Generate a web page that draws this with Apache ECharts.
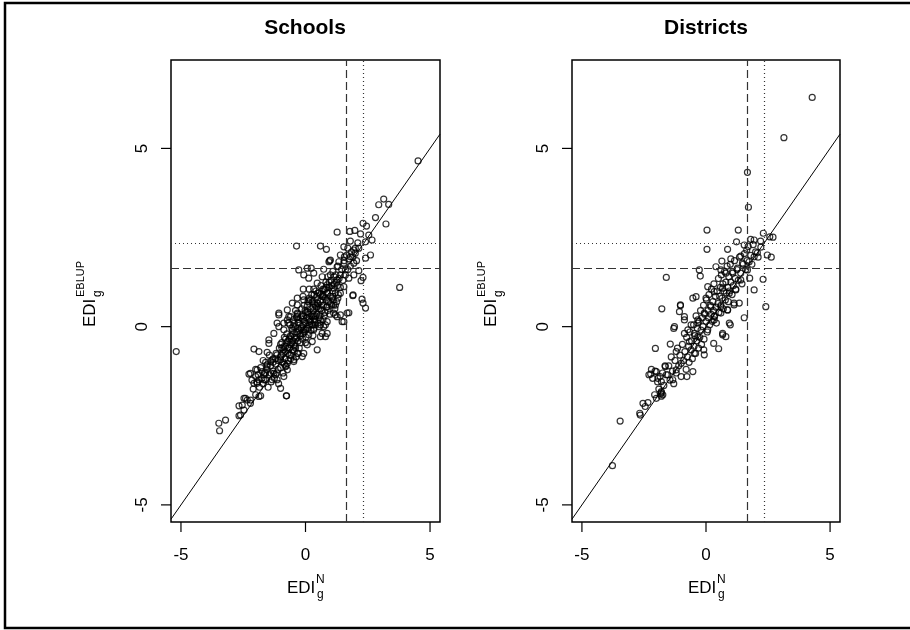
<!DOCTYPE html>
<html>
<head>
<meta charset="utf-8">
<title>EDI scatter</title>
<script src="https://cdn.jsdelivr.net/npm/echarts@6/dist/echarts.min.js"></script>
<style>
html,body{margin:0;padding:0;background:#fff;overflow:hidden;}
#main{width:910px;height:630px;}
</style>
</head>
<body>
<div id="main"></div>
<script>
var panelTitles=["Schools","Districts"];
var tickVals=[-5,0,5];
var tickMin=-5,tickMax=5,tickStep=5;
var xRange=[-5.4,5.4];
var yRange=[-5.48,7.48];
// cut-offs drawn as dashed / dotted guide lines
var Z95=1.645;
var Z99=2.326;
var diagonal=[[-5.4,-5.4],[5.4,5.4]];

var schoolsPts=[
	[4.52,4.65],[3.14,3.58],[2.94,3.42],[3.34,3.43],[2.81,3.06],[3.23,2.88],[2.31,2.9],[2.45,2.82],[2.21,2.6],[1.98,2.7],
	[1.78,2.67],[1.27,2.65],[2.54,2.57],[2.67,2.43],[2.41,2.38],[1.8,2.4],[-0.36,2.26],[0.6,2.26],[0.84,2.17],[1.54,2.24],
	[1.7,2.2],[1.94,2.15],[2.14,2.2],[1.4,2.01],[1.56,1.96],[1.8,1.96],[2.0,2.06],[2.61,2.01],[2.41,1.92],[1.0,1.87],
	[0.94,1.82],[0.97,1.85],[1.34,1.82],[1.54,1.78],[1.94,1.78],[0.07,1.64],[0.23,1.64],[-0.27,1.59],[0.73,1.61],[1.27,1.68],
	[1.6,1.59],[2.14,1.57],[2.31,1.38],[2.23,1.29],[3.78,1.1],[-0.07,1.45],[0.33,1.5],[0.13,1.36],[0.67,1.4],[1.0,1.45],
	[1.4,1.45],[1.74,1.36],[1.94,1.45],[1.27,1.31],[0.47,1.22],[0.87,1.17],[1.13,1.08],[1.54,1.12],[-0.09,1.05],[0.33,1.05],
	[1.9,0.87],[2.27,0.77],[2.31,0.66],[2.41,0.52],[1.4,0.94],[1.07,0.8],[0.73,0.84],[-0.33,0.8],[-0.53,0.66],[0.13,0.75],
	[0.47,0.66],[0.87,0.56],[1.13,0.38],[1.4,0.33],[1.74,0.39],[1.54,0.14],[1.27,0.28],[-1.07,0.38],[-0.73,0.47],[-0.67,0.28],
	[-0.33,0.38],[0.07,0.42],[0.33,0.28],[0.6,0.19],[0.8,0.05],[-1.14,0.1],[-1.27,-0.19],[-0.87,-0.09],[-0.47,0.0],[-0.07,-0.09],
	[0.33,-0.05],[0.67,-0.19],[-5.19,-0.7],[-3.48,-2.71],[-3.21,-2.62],[-3.45,-2.92],[-2.67,-2.22],[-2.61,-2.48],[-2.47,-2.34],[-2.47,-2.01],
	[-2.34,-2.06],[-2.21,-2.15],[-2.0,-1.91],[-1.87,-1.96],[-2.27,-1.33],[-2.07,-0.63],[-1.87,-0.7],[-1.54,-0.72],[-2.0,-1.4],[-1.94,-1.59],
	[-1.74,-1.26],[-1.54,-1.12],[-1.67,-1.49],[-1.4,-0.98],[-1.47,-0.47],[-1.27,-1.31],[-1.0,-1.73],[-0.77,-1.94],[-1.14,-1.49],[-0.87,-1.4],
	[-1.0,-0.93],[-0.73,-1.03],[-0.47,-0.98],[-0.33,-0.75],[-0.07,-0.75],[0.07,-0.51],[0.47,-0.65],[0.27,-0.42],[0.6,-0.28],[0.87,-0.19],
	[1.2,0.33],[1.67,0.38],[1.47,0.14],[-0.6,-0.28],[-0.87,-0.56],[-0.47,-0.51],[-1.07,0.33],[-0.73,0.19],[-0.33,0.28],[0.87,0.14],
	[0.6,0.05],[0.33,-0.09],[-2.67,-2.5],[-2.54,-2.2],[-2.41,-2.01],[-2.21,-2.06],[-1.8,-1.94],[-2.07,-1.59],[-1.87,-1.49],[-2.21,-1.31],
	[-1.94,-1.21],[-1.67,-1.35],[-1.34,-1.49],[-1.54,-1.07],[-1.34,-0.93],[-1.14,-0.79],[-0.76,-1.94],[-1.47,-0.37],[-1.07,0.0],[-0.87,0.1],
	[-0.6,0.28],[-0.33,0.61],[-0.07,0.75],[0.13,-0.23],[0.8,-0.28],[0.73,0.0],[1.13,0.61],[1.91,0.89],[-0.13,-0.84],[-0.47,-0.93],
	[-0.73,-1.21],[-0.8,-1.12],[-1.6,-1.5],[-1.55,-1.2],[-1.5,-1.7],[-1.45,-1.35],[-1.4,-1.1],[-1.38,-1.55],[-1.3,-1.25],[-1.3,-0.9],
	[-1.25,-1.45],[-1.2,-1.05],[-1.18,-0.75],[-1.15,-1.3],[-1.1,-0.95],[-1.08,-1.6],[-1.05,-0.6],[-1.0,-1.15],[-0.98,-0.8],[-0.95,-0.45],
	[-0.92,-1.0],[-0.9,-1.3],[-0.88,-0.65],[-0.85,-0.3],[-0.82,-0.9],[-0.8,-0.55],[-0.78,-1.1],[-0.75,-0.2],[-0.72,-0.75],[-0.7,-0.4],
	[-0.68,-0.95],[-0.65,-0.6],[-0.62,0.05],[-0.6,-0.25],[-0.58,-0.8],[-0.55,-0.45],[-0.52,-0.1],[-0.5,-0.65],[-0.48,0.2],[-0.45,-0.3],
	[-0.42,-0.55],[-0.4,0.0],[-0.38,-0.85],[-0.35,-0.15],[-0.32,0.35],[-0.3,-0.4],[-0.28,0.1],[-0.25,-0.6],[-0.22,-0.2],[-0.2,0.25],
	[-0.18,-0.05],[-0.15,0.5],[-0.12,-0.35],[-0.1,0.05],[-0.08,0.3],[-0.05,-0.15],[-0.02,0.45],[0.0,0.1],[0.02,-0.3],[0.05,0.25],
	[0.08,0.6],[0.1,-0.05],[0.12,0.35],[0.15,0.8],[0.18,0.15],[0.2,0.5],[0.22,-0.1],[0.25,0.3],[0.28,0.7],[0.3,0.05],
	[0.32,0.45],[0.35,0.9],[0.38,0.2],[0.4,0.6],[0.42,1.0],[0.45,0.35],[0.48,0.75],[0.5,0.1],[0.52,0.5],[0.55,0.95],
	[0.58,0.3],[0.6,0.7],[0.62,1.15],[0.65,0.45],[0.68,0.85],[0.7,0.2],[0.72,0.6],[0.75,1.05],[0.78,0.4],[0.8,0.8],
	[0.82,1.25],[0.85,0.55],[0.88,0.95],[0.9,1.4],[0.92,0.7],[0.95,1.1],[0.98,0.35],[1.0,0.85],[1.02,1.3],[1.05,0.6],
	[1.08,1.0],[1.1,1.55],[1.12,0.75],[1.15,1.2],[1.18,0.5],[1.2,0.95],[1.22,1.45],[1.25,0.7],[1.28,1.15],[1.3,1.7],
	[1.32,0.9],[1.35,1.35],[1.4,1.1],[1.45,1.6],[1.5,1.3],[1.55,1.85],[1.6,1.45],[1.65,2.0],[1.7,1.6],[1.75,1.9],
	[1.8,1.7],[1.85,2.1],[1.9,1.95],[2.0,2.2],[2.05,1.85],[2.1,2.35],[-0.6,-0.5],[-0.4,-0.35],[-0.2,-0.25],[0.0,-0.1],
	[0.2,0.15],[0.4,0.3],[-0.3,-0.05],[-0.1,0.2],[0.1,0.4],[0.3,0.55],[-0.5,-0.2],[-0.7,-0.6],[-0.9,-0.75],[0.5,0.65],
	[0.7,0.9],[-1.2,-1.35],[-1.4,-1.3],[-1.0,-0.85],[-0.8,-0.7],[0.6,0.5],[0.85,1.1],[-0.15,0.0],[0.15,0.05],[0.35,0.15],
	[-0.45,-0.7],[-0.65,-0.35],[0.45,0.85],[0.25,0.9],[-0.05,0.6],[-0.35,0.25],[-2.1,-1.75],[-1.95,-1.55],[-1.85,-1.7],[-1.75,-1.45],
	[-1.7,-1.6],[-1.65,-1.3],[-1.9,-1.35],[-2.0,-1.2],[-1.8,-1.15],[-1.6,-1.0],[-1.7,-0.95],[-2.15,-1.5],[-1.3,-1.0],[-1.1,-1.2],
	[-0.95,-0.6],[-0.85,-1.05],[-0.75,-0.45],[-0.65,-0.8],[-0.55,-0.05],[-0.5,-0.4],[-0.45,0.1],[-0.4,-0.6],[-0.35,-0.3],[-0.3,0.2],
	[-0.25,-0.1],[-0.2,-0.45],[-0.15,0.3],[-0.1,-0.2],[-0.05,0.15],[0.0,0.4],[0.05,-0.05],[0.1,0.7],[0.15,0.2],[0.2,0.75],
	[0.25,0.05],[0.3,0.35],[0.35,0.65],[0.4,0.05],[0.45,0.55],[0.5,0.95],[0.55,0.25],[0.6,0.9],[0.65,0.6],[0.7,1.05],
	[0.75,0.3],[0.8,1.05],[0.85,0.75],[0.9,0.45],[0.95,1.25],[1.0,0.65],[1.05,1.15],[1.1,0.85],[1.15,1.4],[1.2,0.6],
	[1.25,1.25],[1.3,0.8],[-0.6,-0.9],[-0.8,-0.35],[-1.0,-0.5],[-1.2,-0.9],[-1.45,-0.8],[-1.6,-1.3],[-0.3,-0.75],[0.0,-0.45],
	[0.3,-0.25],[0.55,0.0],[0.15,1.05],[-0.1,0.85],[-0.4,0.45],[-0.7,0.1]
];

var districtsPts=[
	[4.28,6.43],[3.14,5.3],[1.67,4.33],[1.71,3.35],[0.04,2.71],[1.3,2.71],[2.31,2.62],[2.57,2.52],[2.7,2.51],[1.8,2.45],
	[1.94,2.43],[1.23,2.38],[0.04,2.17],[0.87,2.17],[1.54,2.29],[1.64,2.15],[2.21,2.23],[2.07,2.07],[2.47,2.01],[2.63,1.95],
	[1.94,1.96],[1.4,1.98],[0.64,1.84],[1.0,1.9],[1.47,1.78],[1.74,1.82],[1.27,1.64],[-0.27,1.59],[-0.23,1.42],[-1.6,1.38],
	[0.4,1.68],[0.6,1.59],[0.8,1.5],[1.07,1.54],[1.67,1.59],[1.76,1.36],[2.3,1.33],[1.94,1.03],[2.41,0.56],[1.54,0.25],
	[-1.78,0.5],[-1.03,0.59],[-0.4,0.84],[-0.53,0.8],[0.0,0.8],[-1.07,0.42],[-0.87,0.28],[0.07,1.12],[0.33,0.98],[0.67,1.08],
	[0.94,0.94],[1.2,1.03],[1.4,1.31],[1.34,0.66],[1.13,0.66],[0.87,0.47],[0.6,0.56],[0.2,0.56],[-0.07,0.38],[0.33,0.28],
	[0.94,0.1],[0.67,-0.19],[-1.27,0.0],[-0.73,-0.09],[-0.33,0.1],[-0.47,-0.19],[-3.77,-3.9],[-3.46,-2.65],[-2.67,-2.43],[-2.65,-2.48],
	[-2.54,-2.15],[-2.45,-2.24],[-2.34,-2.13],[-2.07,-1.91],[-2.0,-2.01],[-1.8,-1.82],[-1.74,-1.91],[-2.23,-1.33],[-2.04,-0.61],[-2.0,-1.26],
	[-1.94,-1.45],[-1.8,-1.54],[-1.64,-1.12],[-1.54,-1.35],[-1.34,-1.49],[-1.2,-1.21],[-1.44,-0.49],[-1.3,-0.05],[-1.2,-0.7],[-1.0,-1.03],
	[-0.77,-1.4],[-0.53,-1.26],[-0.87,-0.19],[-0.67,-0.42],[-0.47,-0.75],[-0.07,-0.79],[-0.09,-0.65],[0.31,-0.47],[0.51,-0.62],[0.67,-0.23],
	[0.8,-0.28],[0.98,0.05],[-0.33,-0.28],[0.07,-0.09],[0.33,0.19],[0.6,0.38],[-0.33,0.19],[-0.6,0.05],[-0.87,0.19],[-1.03,0.61],
	[1.13,0.61],[0.87,0.47],[-1.6,-1.35],[-1.5,-1.1],[-1.45,-1.5],[-1.4,-0.85],[-1.35,-1.25],[-1.3,-1.6],[-1.25,-0.95],[-1.2,-1.3],
	[-1.15,-0.6],[-1.1,-1.1],[-1.05,-0.8],[-1.0,-1.4],[-0.95,-0.5],[-0.9,-0.95],[-0.85,-0.7],[-0.8,-1.2],[-0.78,-0.3],[-0.75,-0.85],
	[-0.7,-0.55],[-0.68,-1.0],[-0.65,-0.15],[-0.6,-0.65],[-0.58,-0.4],[-0.55,-0.9],[-0.5,0.05],[-0.48,-0.55],[-0.45,-0.25],[-0.42,-0.75],
	[-0.4,0.3],[-0.38,-0.4],[-0.35,-0.05],[-0.3,-0.6],[-0.28,0.15],[-0.25,-0.3],[-0.22,0.45],[-0.2,-0.1],[-0.18,-0.5],[-0.15,0.25],
	[-0.12,0.0],[-0.1,0.6],[-0.08,-0.35],[-0.05,0.35],[0.0,0.15],[0.02,0.75],[0.05,-0.15],[0.08,0.45],[0.1,0.25],[0.12,0.9],
	[0.15,0.05],[0.18,0.6],[0.2,0.35],[0.22,1.05],[0.25,0.15],[0.28,0.7],[0.3,0.45],[0.32,1.2],[0.35,0.3],[0.38,0.85],
	[0.4,0.55],[0.42,0.1],[0.45,1.0],[0.48,0.65],[0.5,1.35],[0.52,0.4],[0.55,0.85],[0.58,1.1],[0.6,0.6],[0.62,1.45],
	[0.65,0.8],[0.68,1.2],[0.7,0.5],[0.72,1.0],[0.75,1.55],[0.78,0.75],[0.8,1.25],[0.82,0.95],[0.85,1.7],[0.88,1.1],
	[0.9,0.7],[0.92,1.4],[0.95,1.0],[0.98,1.75],[1.0,1.25],[1.05,0.9],[1.08,1.5],[1.1,1.15],[1.15,1.85],[1.18,1.35],
	[1.2,1.05],[1.25,1.6],[1.3,1.3],[1.35,1.95],[1.4,1.5],[1.45,1.2],[1.5,1.75],[1.55,2.05],[1.6,1.6],[1.65,1.85],
	[1.7,2.25],[1.8,2.0],[1.85,1.75],[1.9,2.3],[2.0,2.1],[2.1,1.95],[2.2,2.4],[-2.3,-1.35],[-2.15,-1.45],[-2.05,-1.25],
	[-1.95,-1.55],[-1.85,-1.4],[-1.75,-1.3],[-1.7,-1.65],[-1.65,-1.1],[-2.2,-1.2],[-1.9,-1.75],[-1.8,-1.85],[-1.8,-1.95],[-1.82,-1.88]
];

var FONT="Liberation Sans";
var PLOT_TOP=60,PLOT_H=462,TICK_LEN=10;
var panels=[
	{left:171,width:269,title:panelTitles[0],data:schoolsPts},
	{left:572,width:268,title:panelTitles[1],data:districtsPts}
];

function JAxisLabelX(cx){
	return {
		type:"group",
		children:[
			{type:"text",x:cx-18,y:588,style:{text:"EDI",font:"17px "+FONT,fill:"#000",verticalAlign:"middle"}},
			{type:"text",x:cx+11,y:580,style:{text:"N",font:"12px "+FONT,fill:"#000",verticalAlign:"middle"}},
			{type:"text",x:cx+12,y:595,style:{text:"g",font:"12px "+FONT,fill:"#000",verticalAlign:"middle"}}
		]
	};
}
function JAxisLabelY(cx){
	return {
		type:"group",
		x:cx,
		y:327,
		rotation:Math.PI/2,
		children:[
			{type:"text",x:0,y:0,style:{text:"EDI",font:"17px "+FONT,fill:"#000",verticalAlign:"middle"}},
			{type:"text",x:30,y:-9,style:{text:"EBLUP",font:"11px "+FONT,fill:"#000",verticalAlign:"middle"}},
			{type:"text",x:30,y:8,style:{text:"g",font:"12px "+FONT,fill:"#000",verticalAlign:"middle"}}
		]
	};
}
function JHidden(type,gi){
	return {type:type,gridIndex:gi,min:0,max:1,show:false};
}

var grids=[],xAxes=[],yAxes=[],series=[],graphics=[],mainIdx=[];
graphics.push({type:"rect",shape:{x:5,y:3,width:920,height:625},style:{fill:"none",stroke:"#000",lineWidth:2.5},silent:true});
for(var i=0;i<panels.length;i++){
	var p=panels[i];
	var xs=p.width/(xRange[1]-xRange[0]);
	var ys=PLOT_H/(yRange[1]-yRange[0]);
	var gi=grids.length;
	mainIdx.push(gi);
	grids.push({left:p.left,top:PLOT_TOP,width:p.width,height:PLOT_H,show:true,borderColor:"#000",borderWidth:1.5,backgroundColor:"transparent"});
	xAxes.push({
		type:"value",gridIndex:gi,min:xRange[0],max:xRange[1],
		axisLine:{show:false,onZero:false},axisTick:{show:false},axisLabel:{show:false},splitLine:{show:false}
	});
	yAxes.push({
		type:"value",gridIndex:gi,min:yRange[0],max:yRange[1],
		axisLine:{show:false,onZero:false},axisTick:{show:false},axisLabel:{show:false},splitLine:{show:false}
	});
	series.push({
		type:"scatter",xAxisIndex:gi,yAxisIndex:gi,data:p.data,
		symbol:"circle",symbolSize:6,
		itemStyle:{color:"rgba(0,0,0,0)",borderColor:"#000",borderWidth:1.2},
		markLine:{
			silent:true,symbol:["none","none"],label:{show:false},animation:false,
			data:[
				{xAxis:Z95,lineStyle:{color:"#333",width:1.2,type:[8,4]}},
				{xAxis:Z99,lineStyle:{color:"#333",width:1.2,type:[1,3]}},
				{yAxis:Z95,lineStyle:{color:"#333",width:1.2,type:[8,4]}},
				{yAxis:Z99,lineStyle:{color:"#333",width:1.2,type:[1,3]}}
			]
		}
	});
	series.push({
		type:"line",xAxisIndex:gi,yAxisIndex:gi,data:diagonal,
		symbol:"none",silent:true,clip:true,
		lineStyle:{color:"#000",width:1}
	});
	// label strip under the box, spanning exactly the tick range
	var xi=grids.length;
	grids.push({left:p.left+(tickMin-xRange[0])*xs,width:(tickMax-tickMin)*xs,top:PLOT_TOP+PLOT_H,height:TICK_LEN});
	xAxes.push({
		type:"value",gridIndex:xi,min:tickMin,max:tickMax,interval:tickStep,position:"bottom",
		axisLine:{show:false},axisTick:{show:false},splitLine:{show:false},
		axisLabel:{show:true,margin:15,fontFamily:FONT,fontSize:17,color:"#000",formatter:function(v){return String(v);}}
	});
	yAxes.push(JHidden("value",xi));
	// label strip left of the box
	var yi=grids.length;
	grids.push({left:p.left-TICK_LEN,width:TICK_LEN,top:PLOT_TOP+(yRange[1]-tickMax)*ys,height:(tickMax-tickMin)*ys});
	xAxes.push(JHidden("value",yi));
	yAxes.push({
		type:"value",gridIndex:yi,min:tickMin,max:tickMax,interval:tickStep,position:"left",
		axisLine:{show:false},axisTick:{show:false},splitLine:{show:false},
		axisLabel:{show:true,rotate:90,margin:10,fontFamily:FONT,fontSize:17,color:"#000",formatter:function(v){return String(v);}}
	});
	var cx=p.left+134;
	graphics.push({type:"text",x:cx,y:28,style:{text:p.title,font:"bold 21px "+FONT,fill:"#000",align:"center",verticalAlign:"middle"}});
	graphics.push(JAxisLabelX(cx));
	graphics.push(JAxisLabelY(p.left-81));
}

var chart=echarts.init(document.getElementById("main"),null,{renderer:"canvas"});
chart.setOption({
	animation:false,
	backgroundColor:"#fff",
	grid:grids,
	xAxis:xAxes,
	yAxis:yAxes,
	series:series,
	graphic:{elements:graphics}
});

// tick marks outside the box as thin filled rects, placed through each panel's axes
var ticks=[];
for(var i=0;i<panels.length;i++){
	var p=panels[i];
	var bottom=PLOT_TOP+PLOT_H;
	for(var j=0;j<tickVals.length;j++){
		var v=tickVals[j];
		var tx=chart.convertToPixel({xAxisIndex:mainIdx[i]},v);
		var ty=chart.convertToPixel({yAxisIndex:mainIdx[i]},v);
		if(typeof tx=="number"&&!isNaN(tx)){
			ticks.push({type:"rect",z:100,silent:true,shape:{x:tx-0.6,y:bottom,width:1.2,height:TICK_LEN},style:{fill:"#000"}});
		}
		if(typeof ty=="number"&&!isNaN(ty)){
			ticks.push({type:"rect",z:100,silent:true,shape:{x:p.left-TICK_LEN,y:ty-0.6,width:TICK_LEN,height:1.2},style:{fill:"#000"}});
		}
	}
}
chart.setOption({graphic:{elements:graphics.concat(ticks)}},{replaceMerge:["graphic"]});
</script>
</body>
</html>
